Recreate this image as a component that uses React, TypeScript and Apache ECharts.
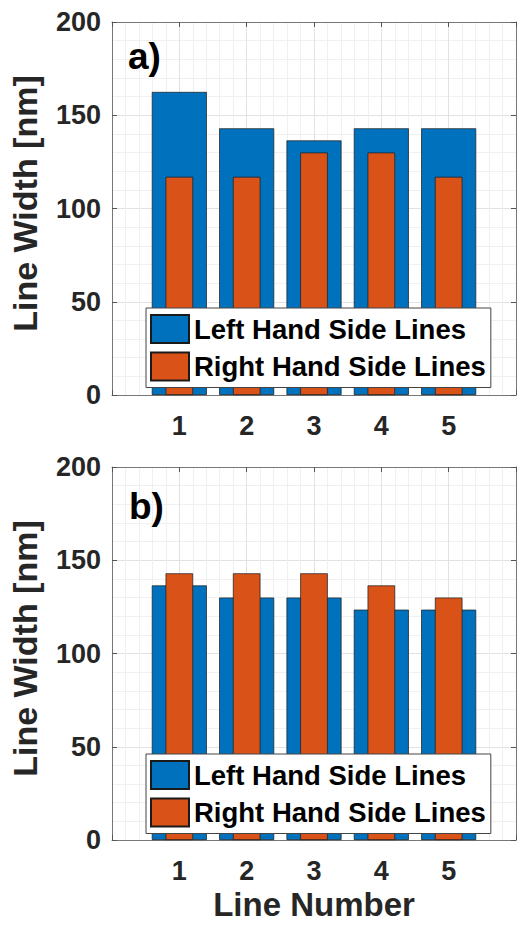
import React, { useEffect, useRef } from "react";
import * as echarts from "echarts";

const FONT = "'Liberation Sans', Arial, Helvetica, sans-serif";

const lineNumbers = [1, 2, 3, 4, 5];
const xTickLabels = ["1", "2", "3", "4", "5"];
const yTicks = [0, 50, 100, 150, 200];
const seriesNames = ["Left Hand Side Lines", "Right Hand Side Lines"];
const panelLabels = ["a)", "b)"];

const leftA = [162.5, 143, 136.5, 143, 143];
const rightA = [117, 117, 130, 130, 117];
const leftB = [136.5, 130, 130, 123.5, 123.5];
const rightB = [143, 143, 143, 136.5, 130];

const BLUE = "#0072BD";
const ORANGE = "#D95319";
const TXT = "#262626";

export default function App() {
  const ref = useRef<HTMLDivElement>(null);

  useEffect(() => {
    if (!ref.current) return;
    const chart = echarts.init(ref.current, undefined, { renderer: "svg" });

    const grids = [
      { left: 112, top: 22, width: 410, height: 373 },
      { left: 112, top: 467, width: 410, height: 373 },
    ];
    const panels = [
      { left: leftA, right: rightA },
      { left: leftB, right: rightB },
    ];

    const xAxis: any[] = [];
    const yAxis: any[] = [];
    const series: any[] = [];

    grids.forEach((_, g) => {
      const isBottom = g === 1;
      xAxis.push({
        type: "value",
        gridIndex: g,
        position: "bottom",
        min: 0,
        max: 6,
        interval: 1,
        axisLine: { show: true, onZero: false, lineStyle: { color: "#777", width: 1 } },
        axisTick: { show: true, inside: true, length: 5, lineStyle: { color: "#555" } },
        axisLabel: {
          show: true,
          margin: 17,
          fontFamily: FONT,
          fontWeight: "bold",
          fontSize: 27,
          color: TXT,
          formatter: (v: number) => {
            const i = lineNumbers.indexOf(v);
            return i >= 0 ? xTickLabels[i] : "";
          },
        },
        splitLine: { show: true, lineStyle: { color: "#e2e2e2", width: 1 } },
        minorTick: { show: false, splitNumber: 5 },
        minorSplitLine: { show: true, lineStyle: { color: "#f0f0f0", width: 1 } },
        name: isBottom ? "Line Number" : "",
        nameLocation: "middle",
        nameGap: 48,
        nameTextStyle: {
          fontFamily: FONT,
          fontWeight: "bold",
          fontSize: 33,
          color: TXT,
          verticalAlign: "top",
        },
      });
      xAxis.push({
        type: "value",
        gridIndex: g,
        position: "top",
        min: 0,
        max: 6,
        interval: 1,
        axisLine: { show: true, onZero: false, lineStyle: { color: "#777", width: 1 } },
        axisTick: { show: true, inside: true, length: 5, lineStyle: { color: "#555" } },
        axisLabel: { show: false },
        splitLine: { show: false },
      });
      yAxis.push({
        type: "value",
        gridIndex: g,
        position: "left",
        min: 0,
        max: 200,
        interval: 50,
        axisLine: { show: true, onZero: false, lineStyle: { color: "#777", width: 1 } },
        axisTick: { show: true, inside: true, length: 5, lineStyle: { color: "#555" } },
        axisLabel: {
          show: true,
          margin: 11,
          fontFamily: FONT,
          fontWeight: "bold",
          fontSize: 27,
          color: TXT,
          formatter: (v: number) => (yTicks.indexOf(v) >= 0 ? String(v) : ""),
        },
        splitLine: { show: true, lineStyle: { color: "#e2e2e2", width: 1 } },
        minorTick: { show: false, splitNumber: 5 },
        minorSplitLine: { show: true, lineStyle: { color: "#f0f0f0", width: 1 } },
        name: "Line Width [nm]",
        nameLocation: "middle",
        nameGap: 70,
        nameTextStyle: {
          fontFamily: FONT,
          fontWeight: "bold",
          fontSize: 34,
          color: TXT,
          padding: [0, 0, 0, 10],
        },
      });
      yAxis.push({
        type: "value",
        gridIndex: g,
        position: "right",
        min: 0,
        max: 200,
        interval: 50,
        axisLine: { show: true, onZero: false, lineStyle: { color: "#777", width: 1 } },
        axisTick: { show: true, inside: true, length: 5, lineStyle: { color: "#555" } },
        axisLabel: { show: false },
        splitLine: { show: false },
      });

      const p = panels[g];
      series.push({
        name: seriesNames[0],
        type: "bar",
        xAxisIndex: 2 * g,
        yAxisIndex: 2 * g,
        barWidth: 55,
        z: 2,
        itemStyle: { color: BLUE, borderColor: "#1a1a1a", borderWidth: 0.7 },
        data: lineNumbers.map((x, i) => [x, p.left[i]]),
      });
      series.push({
        name: seriesNames[1],
        type: "bar",
        xAxisIndex: 2 * g + 1,
        yAxisIndex: 2 * g,
        barWidth: 27.5,
        z: 3,
        itemStyle: { color: ORANGE, borderColor: "#1a1a1a", borderWidth: 0.7 },
        data: lineNumbers.map((x, i) => [x, p.right[i]]),
      });
    });

    const legendTops = [308, 754];
    const legend = legendTops.map((t) => ({
      show: true,
      orient: "vertical",
      left: 146,
      top: t,
      itemWidth: 38,
      itemHeight: 28,
      itemGap: 7.5,
      padding: [6, 5, 6, 4],
      backgroundColor: "#ffffff",
      borderColor: "#444",
      borderWidth: 1,
      borderRadius: 0,
      icon: "rect",
      selectedMode: false,
      data: seriesNames,
      textStyle: {
        fontFamily: FONT,
        fontWeight: "bold",
        fontSize: 27.5,
        color: "#000",
      },
    }));

    const panelPos = [
      { x: 128, y: 56 },
      { x: 129, y: 506 },
    ];

    chart.setOption({
      animation: false,
      backgroundColor: "#ffffff",
      grid: grids.map((g) => ({ ...g, containLabel: false })),
      xAxis,
      yAxis,
      series,
      legend,
      graphic: panelLabels.map((t, i) => ({
        type: "text",
        x: panelPos[i].x,
        y: panelPos[i].y,
        z: 10,
        style: {
          text: t,
          fontFamily: FONT,
          fontWeight: "bold",
          fontSize: 37,
          fill: "#000",
          verticalAlign: "middle",
          align: "left",
        },
      })),
    });

    return () => chart.dispose();
  }, []);

  return (
    <div
      ref={ref}
      style={{ position: "absolute", left: 0, top: 0, width: 519, height: 927 }}
    />
  );
}
